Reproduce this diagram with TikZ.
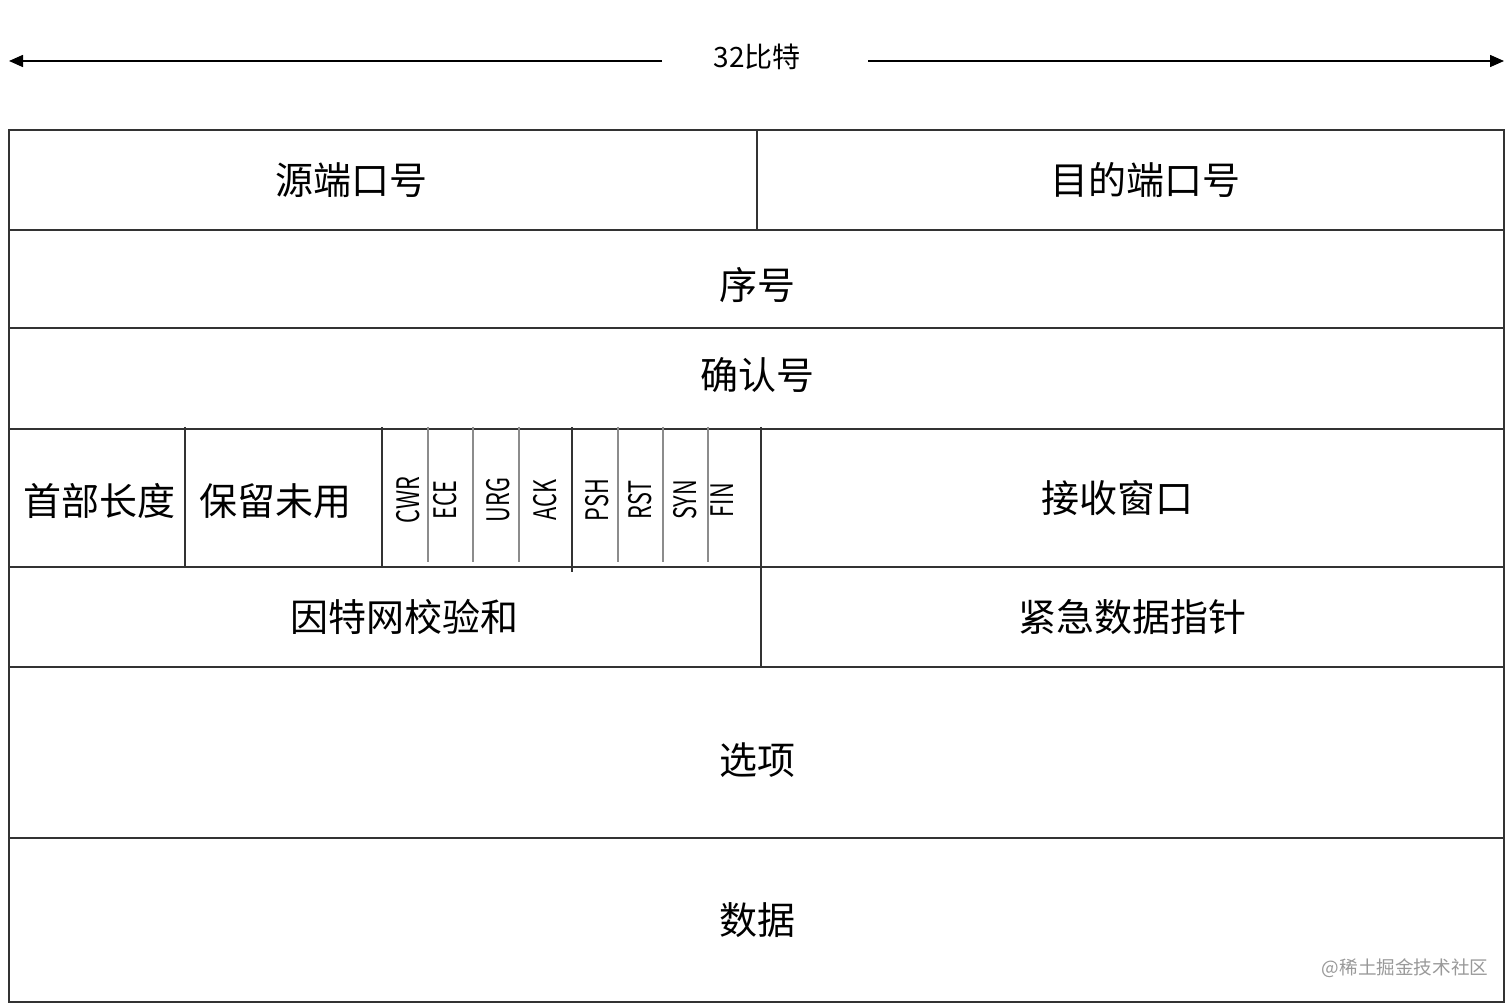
\documentclass[tikz,border=0pt]{standalone}
\usepackage{fontspec}
\setmainfont{Noto Sans CJK SC}
\usetikzlibrary{arrows.meta}
\tikzset{
  cell/.style={font=\fontsize{19}{19}\selectfont},
  flagtext/.style={rotate=90,font=\fontsize{15.5}{15.5}\selectfont},
  rule/.style={line width=0.75pt,draw=black!80},
  flagrule/.style={line width=0.6pt,draw=black!45},
  bitarrow/.style={line width=0.75pt,-{Triangle[length=7pt,width=6pt]}}
}
\begin{document}
\begin{tikzpicture}[x=0.5pt,y=-0.5pt]
\useasboundingbox (0,0) rectangle (1512,1005);
% 32 bit ruler
\node[font=\fontsize{14}{14}\selectfont] (bits) at (757,57) {32比特};
\coordinate (bitL) at (9,61);
\coordinate (bitR) at (1504,61);
\coordinate (gapL) at (662,61);
\coordinate (gapR) at (868,61);
\draw[bitarrow] (gapL) -- (bitL);
\draw[bitarrow] (gapR) -- (bitR);
% rows
\draw[rule] (9,130) rectangle (1504,1002);
\foreach \y in {230,328,429,567,667,838}
  \draw[rule] (9,\y) -- (1504,\y);
\draw[rule] (757,130) -- (757,230);
\draw[rule] (185,427) -- (185,567);
\draw[rule] (382,427) -- (382,567);
\draw[rule] (572,427) -- (572,572);
\draw[rule] (761,427) -- (761,667);
\foreach \x in {428,473,519,618,663,708}
  \draw[flagrule] (\x,427) -- (\x,562);
% labels
\node[cell] (srcport) at (351,180) {源端口号};
\node[cell] (dstport) at (1145,180) {目的端口号};
\node[cell] (seq) at (757,285) {序号};
\node[cell] (ack) at (757,375) {确认号};
\node[cell] (hlen) at (100,501) {首部长度};
\node[cell] (resv) at (275,501) {保留未用};
\node[cell] (win) at (1117,498) {接收窗口};
\node[cell] (csum) at (404,617) {因特网校验和};
\node[cell] (urgptr) at (1132,617) {紧急数据指针};
\node[cell] (opts) at (757,760) {选项};
\node[cell] (data) at (757,920) {数据};
\foreach \x/\f in {408/CWR,445/ECE,498/URG,545/ACK,597/PSH,640/RST,685/SYN,722/FIN}
  \node[flagtext] (flag\f) at (\x,500) {\scalebox{0.7}[1]{\f}};
\node[text=black!40,font=\fontsize{9.3}{9.3}\selectfont] (mark) at (1405,968) {@稀土掘金技术社区};
\end{tikzpicture}
\end{document}
